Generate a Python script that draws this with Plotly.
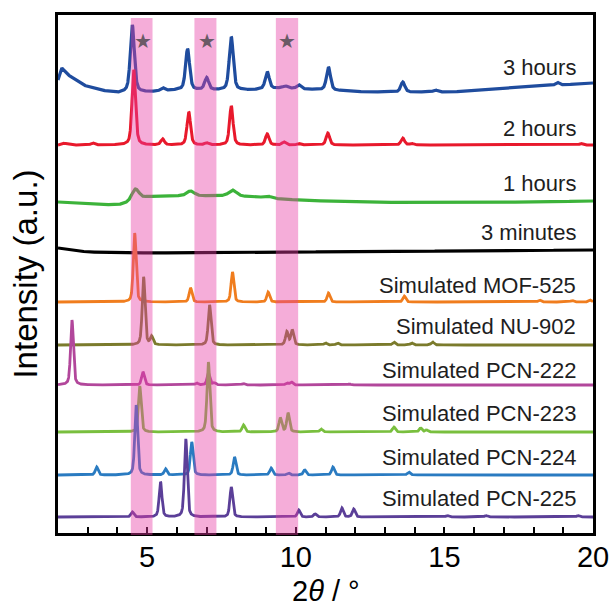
import numpy as np
import plotly.graph_objects as go

# ---- data -------------------------------------------------------------
series_names = [
    "3 hours", "2 hours", "1 hours", "3 minutes",
    "Simulated MOF-525", "Simulated NU-902", "Simulated PCN-222",
    "Simulated PCN-223", "Simulated PCN-224", "Simulated PCN-225",
]

# background (2theta, intensity) knots for each pattern, relative to its own level
bg_3h = [(2.0, 10), (2.13, 22), (2.3, 16), (2.84, 5), (3.41, 0), (3.98, -3), (4.3, -2),
         (5.1, -2), (6.0, 0), (8.5, 0), (9.5, 2), (11.0, 0), (12.4, -2), (15.2, -2),
         (17.4, 2), (20.0, 7)]
bg_2h = [(2.0, 0), (2.15, 2), (2.5, 0), (20.0, 0)]
bg_1h = [(2.0, 0), (3.0, -2), (4.0, -3), (4.4, -1), (5.0, 5), (6.0, 6), (7.0, 6), (8.0, 6),
         (9.0, 4), (10.0, 2), (12.0, 0), (15.0, -1), (18.0, 0), (20.0, 1)]
bg_3min = [(2.0, 4), (2.2, 3), (3.0, 0), (5.0, -1), (10.0, 0), (15.0, 1), (20.0, 2)]
bg_flat = [(2.0, 0), (20.0, 0)]

# reflections: (2theta, height)
peaks_3h = [(4.50, 67), (5.52, 3), (6.36, 41), (7.00, 12), (7.83, 53), (9.04, 17),
            (9.65, 2), (10.10, 4), (11.10, 23), (13.60, 10), (14.70, 2), (18.80, 3)]
peaks_2h = [(3.17, 2), (4.55, 75), (5.52, 6), (6.40, 33), (7.00, 2), (7.83, 39),
            (9.04, 11), (9.60, 3), (10.10, 1.5), (11.08, 12), (13.60, 7), (13.90, 1.5),
            (19.60, 1.5)]
peaks_1h = [(4.60, 12), (6.46, 5), (7.87, 6), (9.04, 2)]
peaks_3min = []
peaks_mof525 = [(4.58, 69), (6.46, 14), (7.87, 30), (9.07, 10), (11.10, 9), (13.65, 6),
                (18.20, 2), (19.30, 1.5), (19.90, 2)]
peaks_nu902 = [(4.88, 68), (5.15, 8), (7.10, 40), (9.70, 13), (9.88, 15), (11.00, 2),
               (11.40, 2), (13.30, 3), (13.90, 2), (14.60, 3)]
peaks_pcn222 = [(2.47, 65), (4.86, 13), (6.66, 2), (7.06, 12), (7.26, 2), (8.24, 1.5),
                (9.70, 2), (9.85, 3), (11.80, 1)]
peaks_pcn223 = [(4.75, 46), (7.06, 70), (8.24, 7), (9.48, 14), (9.74, 19), (10.85, 3),
                (13.30, 5), (14.20, 4), (14.40, 2)]
peaks_pcn224 = [(3.30, 8), (4.63, 70), (5.62, 6), (6.50, 33), (7.94, 18), (9.17, 7),
                (9.75, 2), (10.30, 5), (11.25, 8), (13.80, 3)]
peaks_pcn225 = [(4.50, 5), (5.45, 35), (6.30, 78), (7.83, 30), (10.10, 7), (10.65, 3),
                (11.55, 9), (11.95, 8), (15.10, 1.5), (16.40, 1.5), (19.50, 1.5)]

# highlighted 2theta windows (starred reflections)
band_ranges = [(4.45, 5.18), (6.59, 7.33), (9.33, 10.08)]
star_positions = [4.86, 7.01, 9.71]

# ---- styling / stacking ----------------------------------------------
backgrounds = [bg_3h, bg_2h, bg_1h, bg_3min] + [bg_flat] * 6
peak_lists = [peaks_3h, peaks_2h, peaks_1h, peaks_3min, peaks_mof525, peaks_nu902,
              peaks_pcn222, peaks_pcn223, peaks_pcn224, peaks_pcn225]
stack_offsets = [443, 388, 331, 281, 231, 188, 148, 101, 58, 16]
label_levels = [466, 405, 350, 301, 248, 207, 163, 120, 76, 35]
peak_widths = [0.16, 0.14, 0.3, 0.1, 0.11, 0.11, 0.11, 0.11, 0.11, 0.11]
line_widths = [3.2, 3.0, 3.2, 3.2, 2.8, 2.8, 2.8, 2.8, 2.8, 2.8]
colors = ["#1f4c9e", "#e8192c", "#3cb33a", "#000000", "#f07d1e", "#7b7b2c",
          "#b2479b", "#79bf3e", "#2a7bc1", "#5b3f98"]

x = np.linspace(2, 20, 3601)


def pattern(bg, peaks, fwhm):
    bx, by = zip(*bg)
    y = np.interp(x, bx, by)
    hw = fwhm / 2.0
    for pos, h in peaks:
        d = (x - pos) / hw
        lor = 1.0 / (1.0 + d ** 2)
        gau = np.exp(-np.log(2) * d ** 2)
        y = y + h * (0.55 * gau + 0.45 * lor)
    return y


fig = go.Figure()
for name, bg, pk, off, w, lw, c in zip(series_names, backgrounds, peak_lists,
                                       stack_offsets, peak_widths, line_widths, colors):
    fig.add_trace(go.Scatter(
        x=x, y=pattern(bg, pk, w) + off, mode="lines", name=name,
        line=dict(color=c, width=lw), hoverinfo="skip", showlegend=False,
    ))

for x0, x1 in band_ranges:
    fig.add_shape(type="rect", xref="x", yref="paper", x0=x0, x1=x1, y0=-0.004, y1=0.994,
                  fillcolor="rgba(230,60,165,0.42)", line=dict(width=0), layer="above")

# stars marking the highlighted reflections (drawn over the bands)
for sx in star_positions:
    fig.add_annotation(x=sx, y=492, text="★", showarrow=False, xanchor="center",
                       yanchor="middle",
                       font=dict(family="DejaVu Sans, sans-serif", size=20, color="#6a5a66"))

for name, lv in zip(series_names, label_levels):
    fig.add_annotation(x=19.5, y=lv, text=name, showarrow=False, xanchor="right",
                       yanchor="middle",
                       font=dict(family="Liberation Sans, Arial, sans-serif", size=22,
                                 color="#1e1e1e"))

# x-axis title placed below the tick labels
fig.add_annotation(xref="paper", yref="paper", x=0.5, y=-0.112, text="2<i>θ</i> / °",
                   showarrow=False, xanchor="center", yanchor="middle", borderpad=0,
                   font=dict(family="Liberation Sans, Arial, sans-serif", size=29,
                             color="#000000"))

fig.update_layout(
    width=613, height=607,
    margin=dict(l=58, r=20, t=15, b=74, autoexpand=False),
    plot_bgcolor="white", paper_bgcolor="white",
    font=dict(family="Liberation Sans, Arial, sans-serif", color="#000000"),
)
fig.update_xaxes(
    range=[2, 20], showgrid=False, zeroline=False, automargin=False,
    showline=True, linecolor="black", linewidth=3, mirror=True,
    tick0=0, dtick=5, ticks="inside", ticklen=6, tickwidth=1.5, tickcolor="black",
    tickfont=dict(size=29), ticklabelstandoff=-4,
    minor=dict(dtick=1, ticks="inside", ticklen=6, tickwidth=1.5, tickcolor="black"),
)
fig.update_yaxes(
    range=[0, 518], showgrid=False, zeroline=False, automargin=False,
    showline=True, linecolor="black", linewidth=3, mirror=True,
    showticklabels=False, ticks="",
    title=dict(text="Intensity (a.u.)", font=dict(size=33), standoff=8),
)

fig.write_html("out.html")
